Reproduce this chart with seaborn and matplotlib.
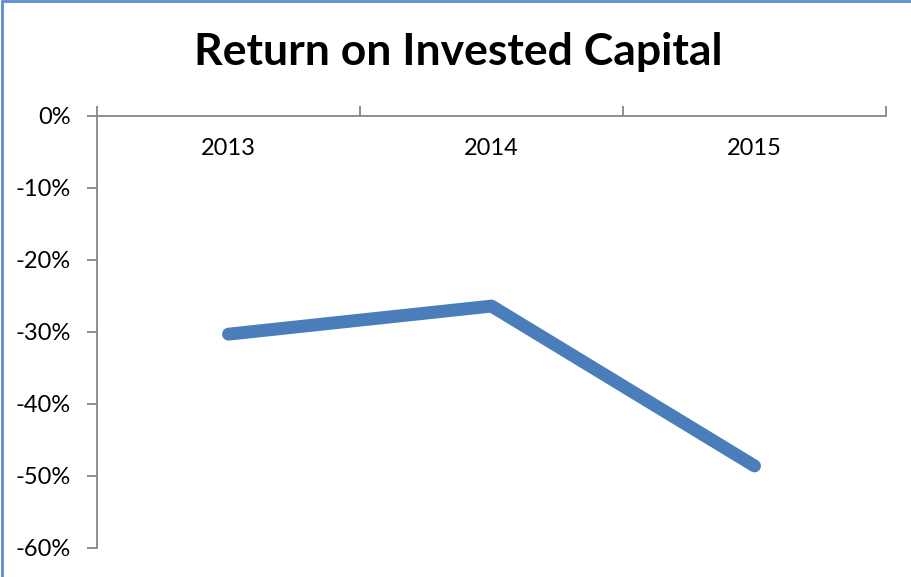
import pandas as pd
import matplotlib.pyplot as plt
import matplotlib.ticker as mticker
from matplotlib.lines import Line2D
import seaborn as sns

years = ["2013", "2014", "2015"]
roic = [-0.303, -0.264, -0.486]
y_ticks = [0, -0.1, -0.2, -0.3, -0.4, -0.5, -0.6]

df = pd.DataFrame({"year": years, "roic": roic})

sns.set_theme(style="white")
plt.rcParams["font.family"] = ["Lato", "DejaVu Sans"]
plt.rcParams["axes.unicode_minus"] = False
plt.rcParams["text.color"] = "black"

fig = plt.figure(figsize=(9.12, 5.77), dpi=100)
ax = fig.add_axes([97 / 912, 1 - 548 / 577, (886 - 97) / 912, (548 - 116) / 577])

sns.lineplot(data=df, x="year", y="roic", ax=ax, color="#4A7EBB",
             linewidth=9.3, solid_capstyle="round", solid_joinstyle="round")

ax.set_xlim(-0.5, 2.5)
ax.set_ylim(-0.6, 0)
ax.set_xlabel("")
ax.set_ylabel("")

axis_grey = "#868686"
for side in ["top", "right"]:
    ax.spines[side].set_visible(False)
for side in ["left", "bottom"]:
    ax.spines[side].set_color(axis_grey)
    ax.spines[side].set_linewidth(1.3)
ax.spines["bottom"].set_position(("data", 0))

ax.set_yticks(y_ticks)
ax.yaxis.set_major_formatter(mticker.PercentFormatter(1.0, decimals=0))
ax.tick_params(axis="y", direction="out", length=7, width=1.3, color=axis_grey,
               labelsize=17, pad=12, labelcolor="black", left=True)

ax.set_xticks([-0.5, 0.5, 1.5, 2.5])
ax.set_xticklabels([])
ax.set_xticks([0, 1, 2], minor=True)
ax.set_xticklabels(years, minor=True)
ax.tick_params(axis="x", which="major", direction="in", length=7, width=1.3,
               color=axis_grey, bottom=True)
ax.tick_params(axis="x", which="minor", length=0, labelsize=17, pad=16,
               labelcolor="black", bottom=True)

fig.text(0.502, 1 - 52 / 577, "Return on Invested Capital", ha="center", va="center",
         fontsize=32, fontweight="bold", color="black")

border = "#5B8FCF"
fig.add_artist(Line2D([0.002, 0.002], [0, 0.998], color=border, linewidth=2))
fig.add_artist(Line2D([0.002, 1], [0.998, 0.998], color=border, linewidth=2))

fig.savefig("out.png", dpi=100)
